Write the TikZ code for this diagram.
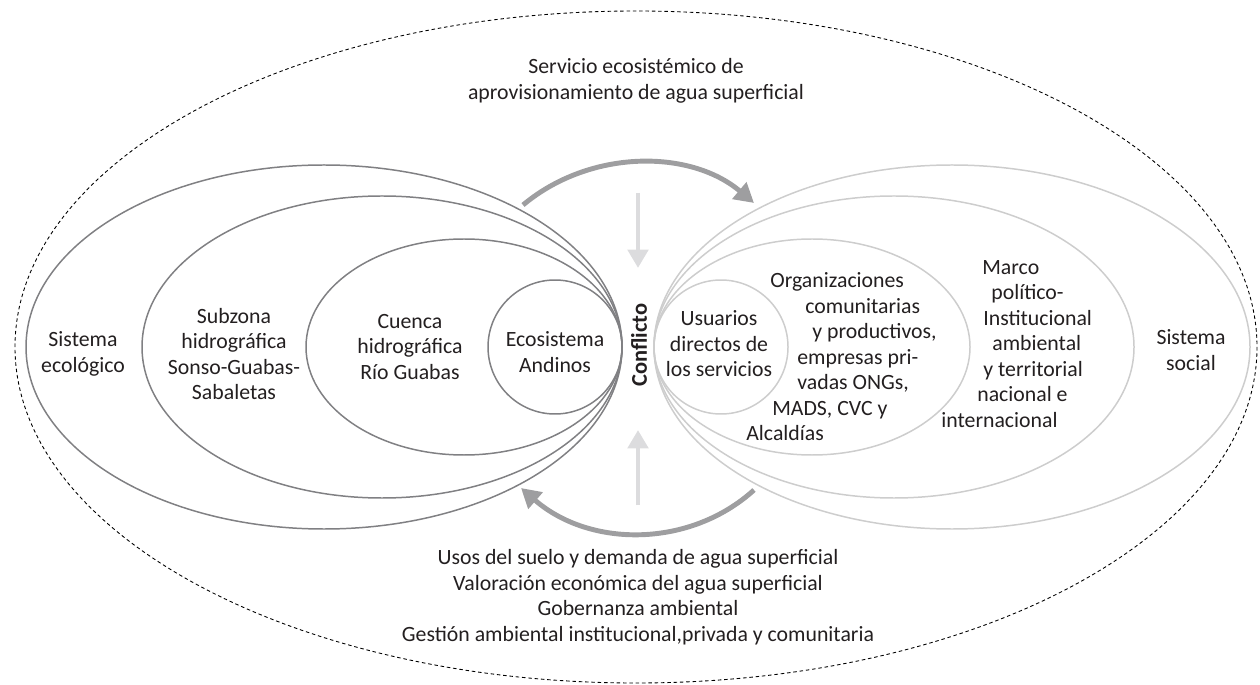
\documentclass[tikz,border=0pt]{standalone}
\usepackage{fontspec}
\setmainfont{Carlito}
\usetikzlibrary{arrows.meta}
\definecolor{grisoscuro}{RGB}{128,128,131}
\definecolor{grisclaro}{RGB}{205,205,205}
\definecolor{grisflecha}{RGB}{158,158,160}
\definecolor{grispalido}{RGB}{220,220,222}
\definecolor{texto}{RGB}{35,31,32}

\begin{document}
\begin{tikzpicture}[x=0.02cm, y=-0.02cm,
    font=\fontsize{12.4}{14.5}\selectfont, text=texto,
    ecologico/.style={draw=grisoscuro, line width=0.85pt},
    social/.style={draw=grisclaro, line width=0.85pt},
    etiqueta/.style={align=center, inner sep=0pt},
    curva/.style={draw=grisflecha, line width=2.8pt, -{Triangle[width=12pt,length=11pt]}},
    recta/.style={draw=grispalido, line width=2.8pt, -{Triangle[width=11.5pt,length=10.5pt]}}]
    \useasboundingbox (0,0) rectangle (1260,685);

    % Servicio ecosistemico (borde punteado)
    \draw[dash pattern=on 2pt off 1.6pt, line width=0.5pt] (636,347) ellipse [x radius=621, y radius=336];

    % Sistema ecologico
    \draw[ecologico] (324,347) ellipse [x radius=298, y radius=182];
    \draw[ecologico] (382,347) ellipse [x radius=240, y radius=151];
    \draw[ecologico] (464,347) ellipse [x radius=158, y radius=108];
    \draw[ecologico] (555,347) ellipse [x radius=67, y radius=67];

    % Sistema social
    \draw[social] (952,347) ellipse [x radius=298, y radius=182];
    \draw[social] (894,347) ellipse [x radius=240, y radius=151];
    \draw[social] (812,347) ellipse [x radius=158, y radius=108];
    \draw[social] (721,347) ellipse [x radius=67, y radius=67];

    % Etiquetas
    \node[etiqueta] (serv) at (636,81) {Servicio ecosistémico de\\aprovisionamiento de agua superficial};
    \node[etiqueta] (ecol) at (83,354) {Sistema\\ecológico};
    \node[etiqueta] (subz) at (234,354) {Subzona\\hidrográfica\\Sonso-Guabas-\\Sabaletas};
    \node[etiqueta] (cuen) at (410,347) {Cuenca\\hidrográfica\\Río Guabas};
    \node[etiqueta] (ecos) at (555,352) {Ecosistema\\Andinos};
    \node[etiqueta] (usua) at (719,344) {Usuarios\\directos de\\los servicios};
    \node[etiqueta, align=left, anchor=west] (orga) at (746,357) {\hspace*{0.48cm}Organizaciones\\
        \hspace*{1.18cm}comunitarias\\
        \hspace*{1.32cm}y productivos,\\
        \hspace*{1.02cm}empresas pri-\\
        \hspace*{1.02cm}vadas ONGs,\\
        \hspace*{0.52cm}MADS, CVC y\\
        Alcaldías};
    \node[etiqueta, align=left, anchor=west] (marc) at (941,344) {\hspace*{0.82cm}Marco\\
        \hspace*{1.0cm}político-\\
        \hspace*{0.84cm}Institucional\\
        \hspace*{1.02cm}ambiental\\
        \hspace*{0.84cm}y territorial\\
        \hspace*{0.72cm}nacional e\\
        internacional};
    \node[etiqueta] (soci) at (1191,350) {Sistema\\social};
    \node[etiqueta] (usos) at (638,597) {Usos del suelo y demanda de agua superficial\\
        Valoración económica del agua superficial\\
        Gobernanza ambiental\\
        Gestión ambiental institucional,privada y comunitaria};

    % Conflicto
    \node[font=\fontsize{12.8}{14.5}\selectfont\bfseries, rotate=90] (conf) at (639,345) {Conflicto};

    % Flechas curvas
    \coordinate (a1) at (523,205);
    \coordinate (a2) at (754,203);
    \coordinate (b1) at (754,490);
    \coordinate (b2) at (521,488);
    \draw[curva] (a1) .. controls (590,149) and (690,149) .. (a2);
    \draw[curva] (b1) .. controls (690,548) and (590,548) .. (b2);

    % Flechas rectas
    \coordinate (d1) at (638,193);
    \coordinate (d2) at (638,268);
    \coordinate (u1) at (638,505);
    \coordinate (u2) at (638,430);
    \draw[recta] (d1) -- (d2);
    \draw[recta] (u1) -- (u2);
\end{tikzpicture}
\end{document}
